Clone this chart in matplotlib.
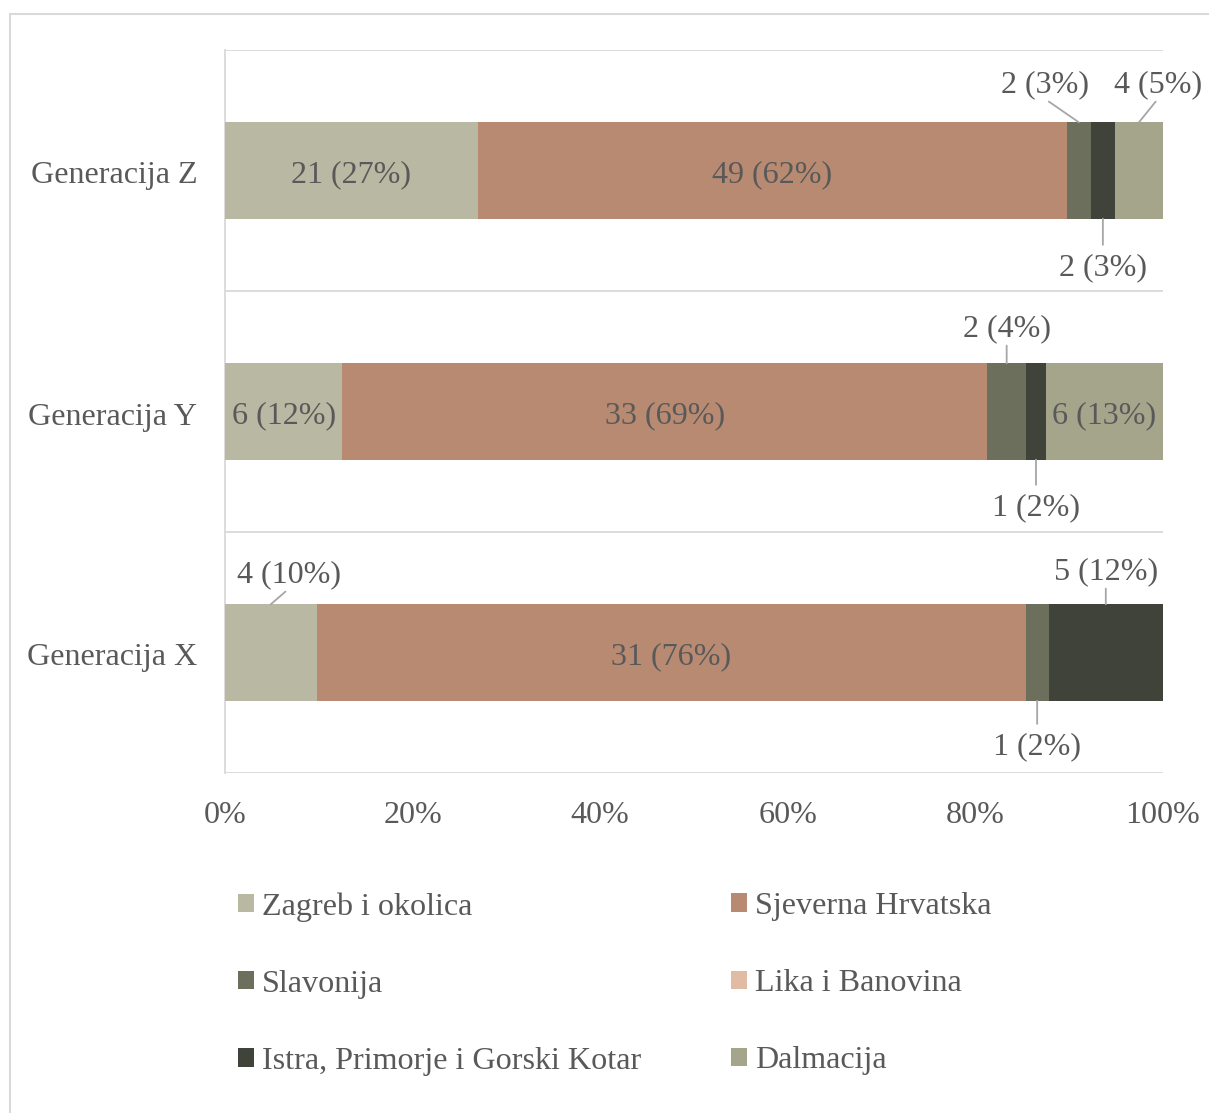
import matplotlib
matplotlib.use("Agg")
import matplotlib.pyplot as plt
from matplotlib.patches import Rectangle, Patch
from matplotlib.transforms import ScaledTranslation

plt.rcParams['font.family'] = ['Liberation Serif', 'DejaVu Serif']

categories = ["Generacija X", "Generacija Y", "Generacija Z"]
series = ["Zagreb i okolica", "Sjeverna Hrvatska", "Slavonija",
          "Lika i Banovina", "Istra, Primorje i Gorski Kotar", "Dalmacija"]
# counts per series, in order X, Y, Z
counts = {
    "Zagreb i okolica":               [4, 6, 21],
    "Sjeverna Hrvatska":              [31, 33, 49],
    "Slavonija":                      [1, 2, 2],
    "Lika i Banovina":                [0, 0, 0],
    "Istra, Primorje i Gorski Kotar": [5, 1, 2],
    "Dalmacija":                      [0, 6, 4],
}
# percentage labels as shown
pct_labels = {
    "Zagreb i okolica":               [10, 12, 27],
    "Sjeverna Hrvatska":              [76, 69, 62],
    "Slavonija":                      [2, 4, 3],
    "Lika i Banovina":                [0, 0, 0],
    "Istra, Primorje i Gorski Kotar": [12, 2, 3],
    "Dalmacija":                      [0, 13, 5],
}
colors = ["#B8B8A3", "#B88A72", "#6B6F5C", "#E2BBA5", "#40433A", "#A5A58C"]

# label placement for small segments: (series, category index) -> (dx px, dy px, edge)
outside = {
    ("Slavonija", 2): (-34, 42, "top"),
    ("Dalmacija", 2): (19, 42, "top"),
    ("Istra, Primorje i Gorski Kotar", 2): (0, -45, "bottom"),
    ("Slavonija", 1): (0, 39, "top"),
    ("Istra, Primorje i Gorski Kotar", 1): (0, -44, "bottom"),
    ("Zagreb i okolica", 0): (18, 34, "top"),
    ("Istra, Primorje i Gorski Kotar", 0): (0, 37, "top"),
    ("Slavonija", 0): (0, -42, "bottom"),
}

W, H = 1209, 1113
fig = plt.figure(figsize=(W / 100, H / 100), dpi=100)
ax = fig.add_axes([225 / W, 1 - 773 / H, (1163 - 225) / W, (773 - 50) / H])

txt = "#595959"
fs = 23.1
bar_h = 0.40
tshift = -4  # px vertical text shift
totals = [sum(counts[s][i] for s in series) for i in range(3)]
left = [0.0, 0.0, 0.0]
for s, c in zip(series, colors):
    vals = [counts[s][i] / totals[i] * 100 for i in range(3)]
    ax.barh(range(3), vals, left=left, height=bar_h, color=c, label=s, zorder=3)
    for i in range(3):
        if counts[s][i] == 0:
            continue
        xc = left[i] + vals[i] / 2
        lab = f"{counts[s][i]} ({pct_labels[s][i]}%)"
        if (s, i) in outside:
            dx, dy, edge = outside[(s, i)]
            top = edge == "top"
            ye = i + bar_h / 2 if top else i - bar_h / 2
            ax.annotate(lab, xy=(xc, ye), xytext=(dx, dy + tshift), textcoords="offset pixels",
                        ha="center", va="center", fontsize=fs, color=txt,
                        arrowprops=dict(arrowstyle="-", color="#A6A6A6", lw=1.3,
                                        shrinkA=0 if top else 4, shrinkB=0,
                                        relpos=(0.5, 0.0) if top else (0.5, 1.0)),
                        zorder=5)
        else:
            ax.annotate(lab, xy=(xc, i), xytext=(0, tshift), textcoords="offset pixels",
                        ha="center", va="center", fontsize=fs, color=txt, zorder=5)
    left = [l + v for l, v in zip(left, vals)]

ax.set_xlim(0, 100)
ax.set_ylim(-0.5, 2.5)
ax.set_xticks([0, 20, 40, 60, 80, 100])
ax.set_xticklabels([f"{t}%" for t in [0, 20, 40, 60, 80, 100]])
ax.set_yticks(range(3))
ax.set_yticklabels(categories)
ax.tick_params(axis="both", length=0, labelsize=fs, labelcolor=txt)
ax.tick_params(axis="x", pad=20)
ax.tick_params(axis="y", pad=20)
off = ScaledTranslation(0, -2 / 100, fig.dpi_scale_trans)
for lbl in ax.get_yticklabels():
    lbl.set_transform(lbl.get_transform() + off)
for sp in ["top", "right", "bottom"]:
    ax.spines[sp].set_visible(False)
ax.spines["left"].set_color("#D9D9D9")
ax.spines["left"].set_linewidth(1.3)
for yv in [-0.5, 0.5, 1.5, 2.5]:
    ax.axhline(yv, color="#D9D9D9", lw=1.3, zorder=1)

# outer chart border
fig.patches.append(Rectangle((10 / W, -0.01), 1.2, 1 - 14 / H + 0.01, transform=fig.transFigure,
                             fill=False, edgecolor="#D9D9D9", lw=1.5))

handles = [Patch(facecolor=c, edgecolor="none") for c in colors]
common = dict(frameon=False, fontsize=fs, labelcolor=txt, handlelength=0.5, handleheight=0.5,
              handletextpad=0.25, labelspacing=1.5, borderaxespad=0, borderpad=0)
leg1 = fig.legend([handles[0], handles[2], handles[4]], [series[0], series[2], series[4]],
                  loc="upper left", bbox_to_anchor=(238 / W, 1 - 892 / H), **common)
leg2 = fig.legend([handles[1], handles[3], handles[5]], [series[1], series[3], series[5]],
                  loc="upper left", bbox_to_anchor=(731 / W, 1 - 892 / H), **common)

fig.savefig("out.png", dpi=100)
